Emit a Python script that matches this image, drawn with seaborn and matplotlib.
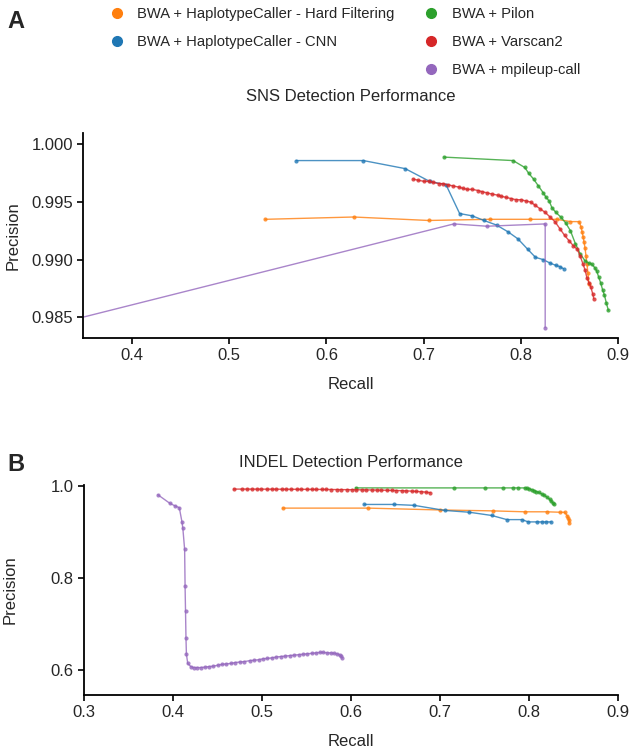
import pandas as pd
import matplotlib
matplotlib.use("Agg")
import matplotlib.pyplot as plt
import seaborn as sns
from matplotlib.lines import Line2D

# ---- SNS (panel A) ----
snv_hf_recall = [0.537, 0.628, 0.705, 0.768, 0.809, 0.837, 0.851, 0.860, 0.862, 0.863, 0.864,
                 0.865, 0.866, 0.867, 0.868, 0.869, 0.870]
snv_hf_prec = [0.9935, 0.9937, 0.9934, 0.9935, 0.9935, 0.9935, 0.9933, 0.9933, 0.9928, 0.9924, 0.9920,
               0.9915, 0.9910, 0.9903, 0.9896, 0.9888, 0.9879]

snv_cnn_recall = [0.569, 0.638, 0.681, 0.706, 0.723, 0.737, 0.750, 0.762, 0.775, 0.787, 0.797,
                  0.807, 0.815, 0.823, 0.830, 0.836, 0.840, 0.844]
snv_cnn_prec = [0.9986, 0.9986, 0.9979, 0.9968, 0.9965, 0.9940, 0.9938, 0.9934, 0.9930, 0.9924, 0.9918,
                0.9909, 0.9902, 0.9900, 0.9897, 0.9895, 0.9894, 0.9892]

snv_pilon_recall = [0.721, 0.792, 0.804, 0.808, 0.813, 0.818, 0.823, 0.826, 0.829, 0.832, 0.836,
                    0.841, 0.846, 0.851, 0.856, 0.861, 0.866, 0.870, 0.873, 0.876, 0.878, 0.880,
                    0.882, 0.884, 0.886, 0.888, 0.890]
snv_pilon_prec = [0.9989, 0.9986, 0.9980, 0.9975, 0.9970, 0.9964, 0.9958, 0.9954, 0.9951, 0.9945, 0.9941,
                  0.9937, 0.9932, 0.9925, 0.9914, 0.9905, 0.9899, 0.9897, 0.9896, 0.9893, 0.9890, 0.9885,
                  0.9880, 0.9874, 0.9869, 0.9862, 0.9856]

snv_varscan_recall = [0.689, 0.694, 0.700, 0.705, 0.710, 0.716, 0.720, 0.725, 0.730, 0.736, 0.740,
                      0.745, 0.750, 0.756, 0.760, 0.765, 0.770, 0.776, 0.780, 0.785, 0.790, 0.795,
                      0.800, 0.805, 0.810, 0.815, 0.820, 0.825, 0.830, 0.835, 0.840, 0.845, 0.850,
                      0.854, 0.858, 0.861, 0.864, 0.866, 0.868, 0.870, 0.872, 0.874, 0.875]
snv_varscan_prec = [0.9970, 0.9969, 0.9968, 0.9968, 0.9967, 0.9966, 0.9966, 0.9965, 0.9964, 0.9963, 0.9962,
                    0.9961, 0.9961, 0.9960, 0.9959, 0.9958, 0.9957, 0.9956, 0.9955, 0.9954, 0.9953, 0.9952,
                    0.9952, 0.9951, 0.9950, 0.9947, 0.9944, 0.9941, 0.9937, 0.9933, 0.9927, 0.9921, 0.9916,
                    0.9912, 0.9909, 0.9903, 0.9896, 0.9891, 0.9884, 0.9880, 0.9876, 0.9870, 0.9866]

snv_mpileup_recall = [0.340, 0.731, 0.765, 0.825, 0.825]
snv_mpileup_prec = [0.9848, 0.9931, 0.9929, 0.9931, 0.9841]

# ---- INDEL (panel B) ----
indel_hf_recall = [0.523, 0.619, 0.700, 0.759, 0.795, 0.820, 0.835, 0.840, 0.843, 0.844, 0.845, 0.845]
indel_hf_prec = [0.952, 0.952, 0.948, 0.946, 0.944, 0.944, 0.943, 0.943, 0.935, 0.930, 0.926, 0.919]

indel_cnn_recall = [0.615, 0.648, 0.671, 0.705, 0.733, 0.758, 0.775, 0.792, 0.799, 0.809, 0.814,
                    0.819, 0.825]
indel_cnn_prec = [0.960, 0.960, 0.958, 0.947, 0.943, 0.936, 0.927, 0.927, 0.922, 0.922, 0.922,
                  0.922, 0.922]

indel_pilon_recall = [0.605, 0.716, 0.751, 0.771, 0.782, 0.788, 0.795, 0.798, 0.800, 0.803, 0.806,
                      0.808, 0.811, 0.814, 0.817, 0.820, 0.823, 0.825, 0.827, 0.828]
indel_pilon_prec = [0.996, 0.996, 0.996, 0.996, 0.996, 0.996, 0.996, 0.995, 0.994, 0.992, 0.990,
                    0.988, 0.986, 0.983, 0.980, 0.976, 0.971, 0.967, 0.963, 0.960]

indel_varscan_recall = [0.468, 0.478, 0.483, 0.489, 0.494, 0.499, 0.505, 0.511, 0.516, 0.522, 0.527,
                        0.533, 0.539, 0.544, 0.550, 0.556, 0.561, 0.567, 0.572, 0.578, 0.584, 0.589,
                        0.595, 0.601, 0.606, 0.612, 0.617, 0.623, 0.629, 0.634, 0.640, 0.646, 0.651,
                        0.657, 0.662, 0.668, 0.673, 0.679, 0.684, 0.689]
indel_varscan_prec = [0.9934, 0.9934, 0.9934, 0.9933, 0.9933, 0.9933, 0.9932, 0.9932, 0.9932, 0.9931, 0.9931,
                      0.9930, 0.9930, 0.9929, 0.9929, 0.9928, 0.9927, 0.9927, 0.9926, 0.9925, 0.9924, 0.9923,
                      0.9922, 0.9921, 0.9920, 0.9918, 0.9917, 0.9915, 0.9913, 0.9911, 0.9909, 0.9906, 0.9903,
                      0.9899, 0.9895, 0.9890, 0.9884, 0.9877, 0.9868, 0.9855]

indel_mpileup_recall = [0.383, 0.396, 0.402, 0.407, 0.410, 0.411, 0.413, 0.4135, 0.414, 0.4145, 0.415,
                        0.4165, 0.420, 0.423, 0.427, 0.431, 0.436, 0.440, 0.445, 0.450, 0.455, 0.460,
                        0.465, 0.470, 0.475, 0.480, 0.486, 0.491, 0.496, 0.501, 0.506, 0.511, 0.516,
                        0.521, 0.526, 0.531, 0.536, 0.541, 0.546, 0.551, 0.556, 0.561, 0.565, 0.569,
                        0.573, 0.577, 0.581, 0.584, 0.587, 0.589, 0.590]
indel_mpileup_prec = [0.981, 0.963, 0.957, 0.953, 0.922, 0.908, 0.862, 0.782, 0.728, 0.670, 0.634,
                      0.614, 0.607, 0.605, 0.605, 0.605, 0.606, 0.607, 0.608, 0.610, 0.612, 0.613,
                      0.614, 0.616, 0.617, 0.618, 0.620, 0.621, 0.622, 0.624, 0.625, 0.626, 0.628,
                      0.629, 0.630, 0.631, 0.632, 0.633, 0.634, 0.635, 0.636, 0.637, 0.638, 0.638,
                      0.637, 0.637, 0.636, 0.635, 0.633, 0.630, 0.626]

methods = ["BWA + HaplotypeCaller - Hard Filtering", "BWA + HaplotypeCaller - CNN",
           "BWA + Pilon", "BWA + Varscan2", "BWA + mpileup-call"]
colors = ["#ff7f0e", "#1f77b4", "#2ca02c", "#d62728", "#9467bd"]
palette = dict(zip(methods, colors))


def to_long(series):
    frames = []
    for name, (r, p) in zip(methods, series):
        frames.append(pd.DataFrame({"recall": r, "precision": p, "method": name,
                                    "order": range(len(r))}))
    return pd.concat(frames, ignore_index=True)


snv_df = to_long([(snv_hf_recall, snv_hf_prec), (snv_cnn_recall, snv_cnn_prec),
                  (snv_pilon_recall, snv_pilon_prec), (snv_varscan_recall, snv_varscan_prec),
                  (snv_mpileup_recall, snv_mpileup_prec)])
indel_df = to_long([(indel_hf_recall, indel_hf_prec), (indel_cnn_recall, indel_cnn_prec),
                    (indel_pilon_recall, indel_pilon_prec), (indel_varscan_recall, indel_varscan_prec),
                    (indel_mpileup_recall, indel_mpileup_prec)])

sns.set_style("ticks")
plt.rcParams['font.family'] = ['Liberation Sans', 'DejaVu Sans']

fig = plt.figure(figsize=(6.32, 7.51), dpi=100)
ax1 = fig.add_axes([0.132, 0.550, 0.846, 0.273])
ax2 = fig.add_axes([0.133, 0.075, 0.845, 0.279])

for ax, df in [(ax1, snv_df), (ax2, indel_df)]:
    for name in methods:
        sub = df[df["method"] == name]
        sns.lineplot(data=sub, x="recall", y="precision", color=palette[name], sort=False,
                     estimator=None, marker="o", markersize=3, markeredgewidth=0,
                     linewidth=1, alpha=0.8, legend=False, ax=ax)

ax1.set_xlim(0.35, 0.9)
ax1.set_ylim(0.9832, 1.001)
ax1.set_xticks([0.4, 0.5, 0.6, 0.7, 0.8, 0.9])
ax1.set_xticklabels(["0.4", "0.5", "0.6", "0.7", "0.8", "0.9"])
ax1.set_yticks([0.985, 0.990, 0.995, 1.000])
ax1.set_yticklabels(["0.985", "0.990", "0.995", "1.000"])
ax1.set_title("SNS Detection Performance", fontsize=12, pad=23)

ax2.set_xlim(0.3, 0.9)
ax2.set_ylim(0.546, 1.002)
ax2.set_xticks([0.3, 0.4, 0.5, 0.6, 0.7, 0.8, 0.9])
ax2.set_xticklabels(["0.3", "0.4", "0.5", "0.6", "0.7", "0.8", "0.9"])
ax2.set_yticks([0.6, 0.8, 1.0])
ax2.set_yticklabels(["0.6", "0.8", "1.0"])
ax2.set_title("INDEL Detection Performance", fontsize=12, pad=13)

for ax, xpad, ypad in [(ax1, 10, 8), (ax2, 10, 24)]:
    ax.set_xlabel("Recall", fontsize=12, labelpad=xpad)
    ax.set_ylabel("Precision", fontsize=12, labelpad=ypad)
    ax.tick_params(labelsize=12, width=1.2, length=4, color="black")
    for s in ["left", "bottom"]:
        ax.spines[s].set_color("black")
        ax.spines[s].set_linewidth(1.3)
    sns.despine(ax=ax)

fig.text(0.012, 0.972, "A", fontsize=17, fontweight="bold", va="center")
fig.text(0.012, 0.381, "B", fontsize=17, fontweight="bold", va="center")

handles = [Line2D([], [], marker="o", color=c, linestyle="", markersize=7) for c in colors]
blank = Line2D([], [], linestyle="", marker="")
order = [handles[0], handles[1], blank, handles[2], handles[3], handles[4]]
labels = [methods[0], methods[1], "", methods[2], methods[3], methods[4]]
fig.legend(order, labels, loc="upper left", bbox_to_anchor=(0.152, 1.008), ncol=2,
           frameon=False, fontsize=10.6, handletextpad=0.9, columnspacing=2.0,
           labelspacing=0.95, handlelength=1.0)

fig.savefig("out.png", dpi=100)
